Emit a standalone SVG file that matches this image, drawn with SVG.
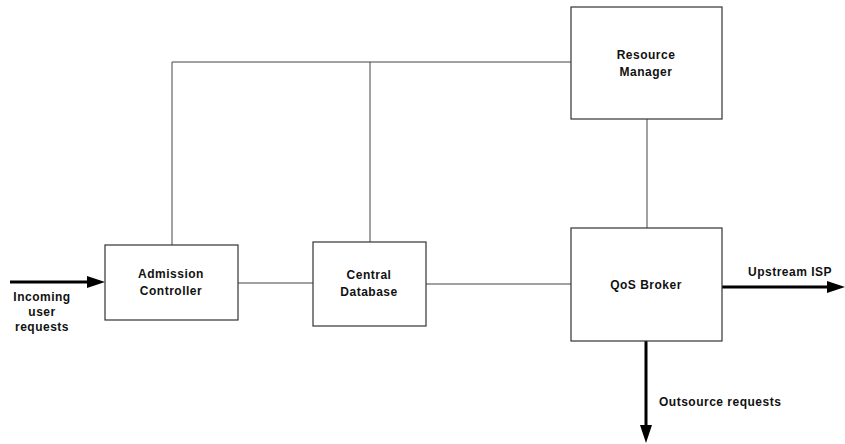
<svg xmlns="http://www.w3.org/2000/svg" width="845" height="444" viewBox="0 0 845 444">
<style>
.box{fill:#ffffff;stroke:#333;stroke-width:1.2}
.ln{fill:none;stroke:#444;stroke-width:1}
.thick{fill:none;stroke:#000;stroke-width:3}
.head{fill:#000}
text{font-family:"Liberation Sans",Arial,sans-serif;font-weight:bold;font-size:12px;letter-spacing:0.5px;fill:#111}
.c{text-anchor:middle}
</style>
<rect width="845" height="444" fill="#ffffff"/>
<g id="connectors">
<polyline class="ln" points="172,245 172,62 571,62"/>
<line class="ln" x1="370" y1="62" x2="370" y2="242"/>
<line class="ln" x1="238" y1="283" x2="313" y2="283"/>
<line class="ln" x1="426" y1="284" x2="571" y2="284"/>
<line class="ln" x1="647" y1="119" x2="647" y2="228"/>
<line class="thick" x1="10" y1="282" x2="90" y2="282"/>
<polygon class="head" points="105,282 87,276 87,288"/>
<line class="thick" x1="722" y1="287" x2="830" y2="287"/>
<polygon class="head" points="845,287 827,281 827,293"/>
<line class="thick" x1="646" y1="341" x2="646" y2="428"/>
<polygon class="head" points="646,443 640,425 652,425"/>
<text x="42" y="301" class="c">Incoming</text>
<text x="42" y="316" class="c">user</text>
<text x="42" y="331" class="c">requests</text>
<text x="748" y="276">Upstream ISP</text>
<text x="659" y="406">Outsource requests</text>
</g>
<g id="admission">
<rect class="box" x="105" y="245" width="133" height="75"/>
<text x="171" y="278" class="c">Admission</text>
<text x="171" y="295" class="c">Controller</text>
</g>
<g id="database">
<rect class="box" x="313" y="242" width="113" height="84"/>
<text x="369" y="279" class="c">Central</text>
<text x="369" y="296" class="c">Database</text>
</g>
<g id="resource">
<rect class="box" x="571" y="7" width="151" height="112"/>
<text x="646" y="59" class="c">Resource</text>
<text x="646" y="76" class="c">Manager</text>
</g>
<g id="qos">
<rect class="box" x="571" y="228" width="151" height="113"/>
<text x="646" y="289" class="c">QoS Broker</text>
</g>
</svg>
